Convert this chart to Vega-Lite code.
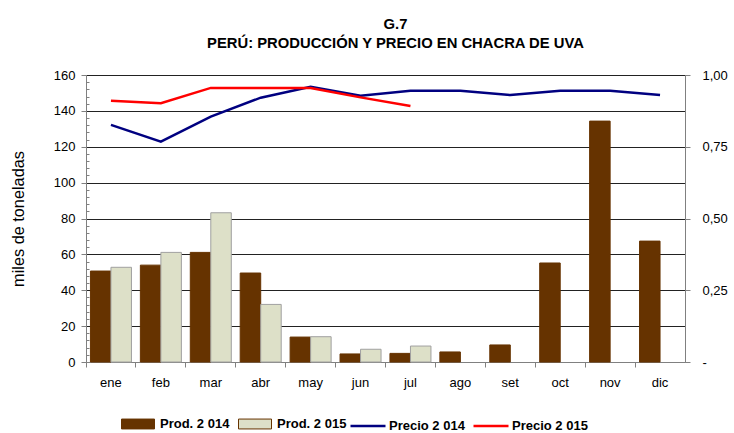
{
  "$schema": "https://vega.github.io/schema/vega-lite/v6.json",
  "width": 599,
  "height": 287,
  "autosize": {"type": "none"},
  "padding": {"left": 86, "top": 75, "right": 49, "bottom": 71},
  "config": {
    "font": "Liberation Sans",
    "view": {"stroke": null},
    "axis": {"labelFont": "Liberation Sans", "titleFont": "Liberation Sans", "labelColor": "#000", "titleColor": "#000"},
    "legend": {"labelFont": "Liberation Sans"}
  },
  "title": {
    "text": ["G.7", "PERÚ: PRODUCCIÓN Y PRECIO EN CHACRA DE UVA"],
    "fontSize": 14.8,
    "fontWeight": "bold",
    "lineHeight": 19,
    "frame": "group",
    "anchor": "middle",
    "offset": 18,
    "dx": 10,
    "color": "#000"
  },
  "datasets": {
    "prod": [
      {"mes": "ene", "serie": "Prod. 2 014", "valor": 50.7},
      {"mes": "ene", "serie": "Prod. 2 015", "valor": 52.8},
      {"mes": "feb", "serie": "Prod. 2 014", "valor": 54.0},
      {"mes": "feb", "serie": "Prod. 2 015", "valor": 61.1},
      {"mes": "mar", "serie": "Prod. 2 014", "valor": 61.1},
      {"mes": "mar", "serie": "Prod. 2 015", "valor": 83.2},
      {"mes": "abr", "serie": "Prod. 2 014", "valor": 49.6},
      {"mes": "abr", "serie": "Prod. 2 015", "valor": 32.1},
      {"mes": "may", "serie": "Prod. 2 014", "valor": 13.9},
      {"mes": "may", "serie": "Prod. 2 015", "valor": 14.1},
      {"mes": "jun", "serie": "Prod. 2 014", "valor": 4.5},
      {"mes": "jun", "serie": "Prod. 2 015", "valor": 7.1},
      {"mes": "jul", "serie": "Prod. 2 014", "valor": 4.8},
      {"mes": "jul", "serie": "Prod. 2 015", "valor": 8.9},
      {"mes": "ago", "serie": "Prod. 2 014", "valor": 5.6},
      {"mes": "set", "serie": "Prod. 2 014", "valor": 9.5},
      {"mes": "oct", "serie": "Prod. 2 014", "valor": 55.2},
      {"mes": "nov", "serie": "Prod. 2 014", "valor": 134.3},
      {"mes": "dic", "serie": "Prod. 2 014", "valor": 67.4}
    ],
    "precio": [
      {"mes": "ene", "serie": "Precio 2 014", "valor": 0.826},
      {"mes": "feb", "serie": "Precio 2 014", "valor": 0.768},
      {"mes": "mar", "serie": "Precio 2 014", "valor": 0.855},
      {"mes": "abr", "serie": "Precio 2 014", "valor": 0.921},
      {"mes": "may", "serie": "Precio 2 014", "valor": 0.959},
      {"mes": "jun", "serie": "Precio 2 014", "valor": 0.928},
      {"mes": "jul", "serie": "Precio 2 014", "valor": 0.945},
      {"mes": "ago", "serie": "Precio 2 014", "valor": 0.945},
      {"mes": "set", "serie": "Precio 2 014", "valor": 0.930},
      {"mes": "oct", "serie": "Precio 2 014", "valor": 0.945},
      {"mes": "nov", "serie": "Precio 2 014", "valor": 0.945},
      {"mes": "dic", "serie": "Precio 2 014", "valor": 0.930},
      {"mes": "ene", "serie": "Precio 2 015", "valor": 0.910},
      {"mes": "feb", "serie": "Precio 2 015", "valor": 0.902},
      {"mes": "mar", "serie": "Precio 2 015", "valor": 0.955},
      {"mes": "abr", "serie": "Precio 2 015", "valor": 0.955},
      {"mes": "may", "serie": "Precio 2 015", "valor": 0.955},
      {"mes": "jun", "serie": "Precio 2 015", "valor": 0.922},
      {"mes": "jul", "serie": "Precio 2 015", "valor": 0.892}
    ]
  },
  "layer": [
    {
      "data": {"name": "prod"},
      "mark": {"type": "bar", "strokeWidth": 1},
      "encoding": {
        "x": {
          "field": "mes", "type": "nominal",
          "sort": ["ene","feb","mar","abr","may","jun","jul","ago","set","oct","nov","dic"],
          "scale": {"paddingInner": 0, "paddingOuter": 0},
          "axis": {"orient": "bottom", "title": null, "labels": false, "bandPosition": 0, "tickSize": 5, "tickColor": "#808080", "domainColor": "#808080", "grid": false}
        },
        "xOffset": {
          "field": "serie", "type": "nominal",
          "sort": ["Prod. 2 014", "Prod. 2 015"],
          "scale": {"paddingInner": 0, "paddingOuter": 0.217}
        },
        "y": {
          "field": "valor", "type": "quantitative",
          "scale": {"domain": [0, 160], "nice": false},
          "axis": {
            "title": "miles de toneladas", "titleFontSize": 16.3, "titleFontWeight": "normal", "titlePadding": 27,
            "values": [0,4,8,12,16,20,24,28,32,36,40,44,48,52,56,60,64,68,72,76,80,84,88,92,96,100,104,108,112,116,120,124,128,132,136,140,144,148,152,156,160],
            "labelExpr": "datum.value % 20 === 0 ? datum.label : ''",
            "grid": true, "gridColor": "#222", "gridWidth": 1,
            "gridOpacity": {"condition": {"test": "datum.value % 20 === 0", "value": 1}, "value": 0},
            "domainColor": "#808080", "tickColor": "#808080",
            "tickSize": {"condition": {"test": "datum.value % 20 === 0", "value": 5}, "value": -3},
            "labelFontSize": 13, "labelPadding": 6
          }
        },
        "fill": {
          "field": "serie", "type": "nominal",
          "scale": {"domain": ["Prod. 2 014", "Prod. 2 015"], "range": ["#663300", "#DDE0C8"]},
          "legend": {
            "title": null, "orient": "none", "direction": "horizontal",
            "legendX": 35, "legendY": 332,
            "symbolType": "M-1,-0.3H1V0.3H-1Z", "symbolSize": 1089,
            "symbolStrokeWidth": 1, "symbolOpacity": 1,
            "labelFontSize": 13, "labelFontWeight": "bold", "labelColor": "#000",
            "labelOffset": 5, "columnPadding": 6,
            "encode": {"symbols": {"update": {"stroke": {"signal": "datum.value === 'Prod. 2 015' ? '#A0A0A0' : '#663300'"}}}}
          }
        },
        "stroke": {
          "condition": {"test": "datum.serie === 'Prod. 2 015'", "value": "#A0A0A0"},
          "value": "#663300"
        }
      }
    },
    {
      "data": {"name": "precio"},
      "mark": {"type": "line", "strokeWidth": 2.5},
      "encoding": {
        "x": {
          "field": "mes", "type": "nominal",
          "sort": ["ene","feb","mar","abr","may","jun","jul","ago","set","oct","nov","dic"],
          "axis": {"orient": "bottom", "title": null, "ticks": false, "domain": false, "labelFontSize": 13, "labelPadding": 14, "labelAngle": 0, "grid": false}
        },
        "y": {
          "field": "valor", "type": "quantitative",
          "scale": {"domain": [0, 1], "nice": false},
          "axis": {
            "orient": "right", "title": null,
            "values": [0, 0.25, 0.5, 0.75, 1],
            "labelExpr": "datum.value === 0 ? '  -' : replace(format(datum.value, '.2f'), '.', ',')",
            "grid": false, "domainColor": "#808080", "tickColor": "#808080", "tickSize": 5,
            "labelFontSize": 13, "labelPadding": 12
          }
        },
        "stroke": {
          "field": "serie", "type": "nominal",
          "scale": {"domain": ["Precio 2 014", "Precio 2 015"], "range": ["#000080", "#FF0000"]},
          "legend": {
            "title": null, "orient": "none", "direction": "horizontal",
            "legendX": 263, "legendY": 332,
            "symbolType": "stroke", "symbolSize": 1225, "symbolStrokeWidth": 2.5,
            "labelFontSize": 13, "labelFontWeight": "bold", "labelColor": "#000",
            "labelOffset": 2, "columnPadding": 3
          }
        }
      }
    }
  ],
  "resolve": {"scale": {"y": "independent"}, "axis": {"x": "independent"}}
}
